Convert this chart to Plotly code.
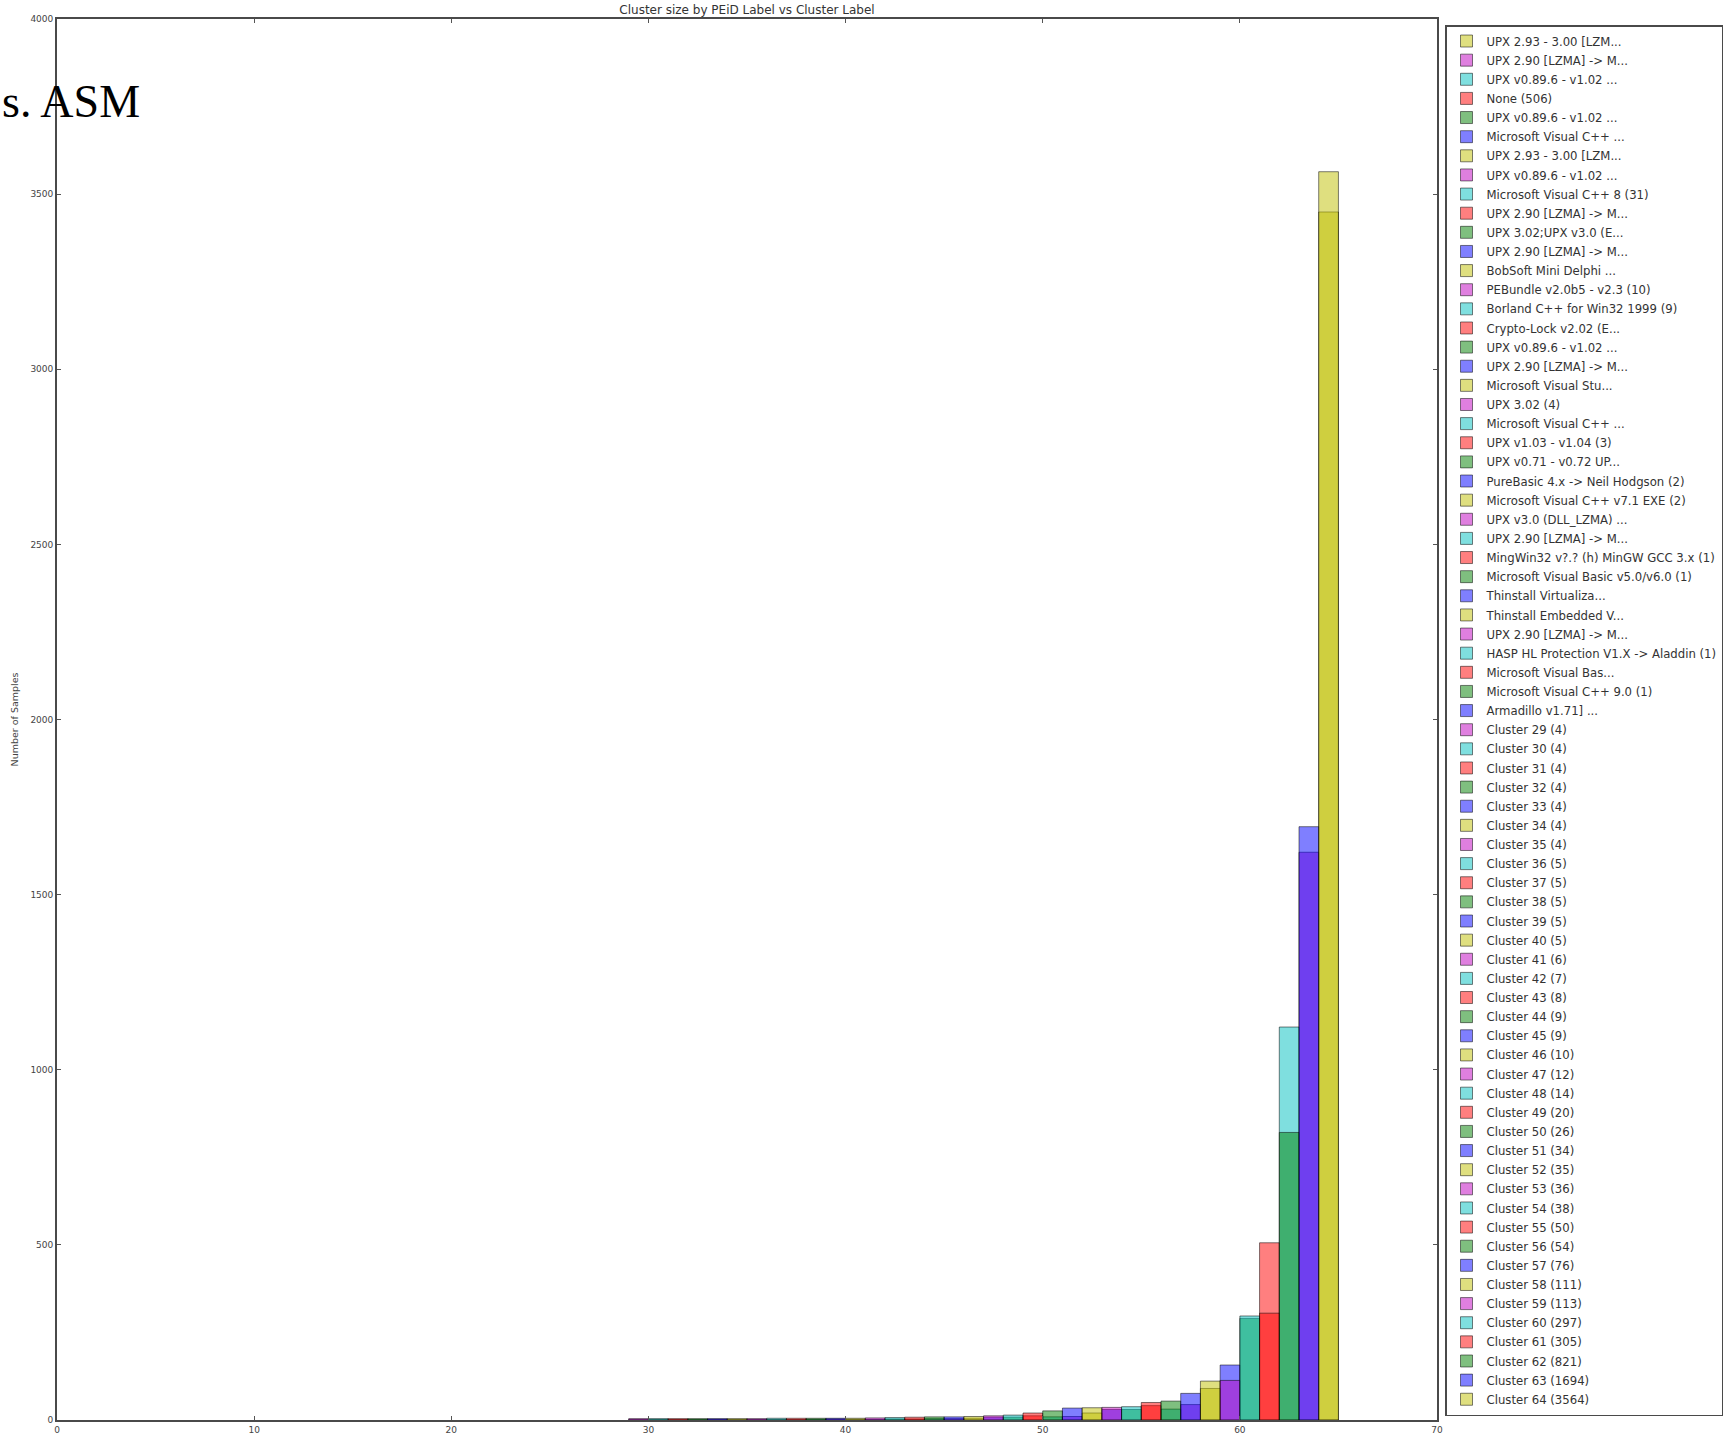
import plotly.graph_objects as go

# Cluster ids (bars drawn from x=c to x=c+1) and their sample counts
clusters = list(range(29, 65))
cluster_sizes = [4, 4, 4, 4, 4, 4, 4, 5, 5, 5, 5, 5, 6, 7, 8, 9, 9, 10, 12, 14,
                 20, 26, 34, 35, 36, 38, 50, 54, 76, 111, 113, 297, 305, 821, 1694, 3564]

# Dominant PEiD label per cluster, listed from cluster 64 down to cluster 29
peid_labels = [
    "UPX 2.93 - 3.00 [LZM...",
    "UPX 2.90 [LZMA] -> M...",
    "UPX v0.89.6 - v1.02 ...",
    "None",
    "UPX v0.89.6 - v1.02 ...",
    "Microsoft Visual C++ ...",
    "UPX 2.93 - 3.00 [LZM...",
    "UPX v0.89.6 - v1.02 ...",
    "Microsoft Visual C++ 8",
    "UPX 2.90 [LZMA] -> M...",
    "UPX 3.02;UPX v3.0 (E...",
    "UPX 2.90 [LZMA] -> M...",
    "BobSoft Mini Delphi ...",
    "PEBundle v2.0b5 - v2.3",
    "Borland C++ for Win32 1999",
    "Crypto-Lock v2.02 (E...",
    "UPX v0.89.6 - v1.02 ...",
    "UPX 2.90 [LZMA] -> M...",
    "Microsoft Visual Stu...",
    "UPX 3.02",
    "Microsoft Visual C++ ...",
    "UPX v1.03 - v1.04",
    "UPX v0.71 - v0.72 UP...",
    "PureBasic 4.x -> Neil Hodgson",
    "Microsoft Visual C++ v7.1 EXE",
    "UPX v3.0 (DLL_LZMA) ...",
    "UPX 2.90 [LZMA] -> M...",
    "MingWin32 v?.? (h) MinGW GCC 3.x",
    "Microsoft Visual Basic v5.0/v6.0",
    "Thinstall Virtualiza...",
    "Thinstall Embedded V...",
    "UPX 2.90 [LZMA] -> M...",
    "HASP HL Protection V1.X -> Aladdin",
    "Microsoft Visual Bas...",
    "Microsoft Visual C++ 9.0",
    "Armadillo v1.71] ...",
]
# Total samples carrying each PEiD label (same order as peid_labels)
peid_counts = [3449, 1621, 1122, 506, 290, 157, 90, 44, 31, 41, 30, 30,
               20, 10, 9, 12, 8, 8, 5, 4, 4, 3, 3, 2, 2, 3, 2, 1, 1, 1,
               1, 2, 1, 1, 1, 1]
peid_clusters = [64 - k for k in range(len(peid_labels))]

# classic matplotlib single-letter colours
MPL = {
    "b": (0, 0, 255), "g": (0, 128, 0), "r": (255, 0, 0),
    "c": (0, 191, 191), "m": (191, 0, 191), "y": (191, 191, 0),
}
PEID_CYCLE = ["y", "m", "c", "r", "g", "b"]
CLUSTER_CYCLE = ["y", "b", "g", "r", "c", "m"]


def rgba(key, a=0.5):
    r, g, b = MPL[key]
    return f"rgba({r},{g},{b},{a})"


fig = go.Figure()
edge = dict(color="rgba(0,0,0,0.5)", width=1)

for k, (lab, cnt, c) in enumerate(zip(peid_labels, peid_counts, peid_clusters)):
    name = lab if lab.endswith("...") else f"{lab} ({cnt})"
    col = PEID_CYCLE[k % 6]
    fig.add_trace(go.Bar(
        x=[c], y=[cnt], width=1, offset=0, name=name, legendgroup=f"p{k}",
        marker=dict(color=rgba(col), line=edge),
    ))

for c, size in zip(clusters, cluster_sizes):
    col = CLUSTER_CYCLE[(64 - c) % 6]
    fig.add_trace(go.Bar(
        x=[c], y=[size], width=1, offset=0, name=f"Cluster {c} ({size})",
        legendgroup=f"c{c}",
        marker=dict(color=rgba(col), line=edge),
    ))

axis_style = dict(
    showline=True, linecolor="#4a4a4a", linewidth=1.8, mirror="ticks",
    ticks="inside", ticklen=4, tickcolor="#555", showgrid=False, zeroline=False,
    tickfont=dict(family="DejaVu Sans", size=9, color="#444"),
)

fig.update_layout(
    width=1726, height=1440,
    margin=dict(l=57, r=289, t=19, b=20, autoexpand=False),
    paper_bgcolor="white", plot_bgcolor="white",
    barmode="overlay",
    font=dict(family="DejaVu Sans", color="#333"),
    title=dict(text="Cluster size by PEiD Label vs Cluster Label",
               x=0.5, xref="paper", y=1 - 9.5 / 1440, yanchor="middle",
               font=dict(family="DejaVu Sans", size=12, color="#333")),
    xaxis=dict(range=[0, 70], dtick=10, **axis_style),
    yaxis=dict(range=[0, 4000], dtick=500,
               title=dict(text="Number of Samples", standoff=10,
                          font=dict(family="DejaVu Sans", size=9.5, color="#444")),
               **axis_style),
    legend=dict(x=1.0058, y=0.9957, xanchor="left", yanchor="top",
                bgcolor="white", bordercolor="#4a4a4a", borderwidth=1.5,
                font=dict(family="DejaVu Sans", size=11.7, color="#333"),
                tracegroupgap=0.13, traceorder="grouped"),
    annotations=[dict(
        text="s. ASM", xref="paper", yref="paper",
        x=-57 / 1380, y=1 - (101 - 19) / 1401, xanchor="left", yanchor="middle",
        showarrow=False, font=dict(family="Liberation Serif", size=46, color="black"),
    )],
)

fig.write_html("out.html")
